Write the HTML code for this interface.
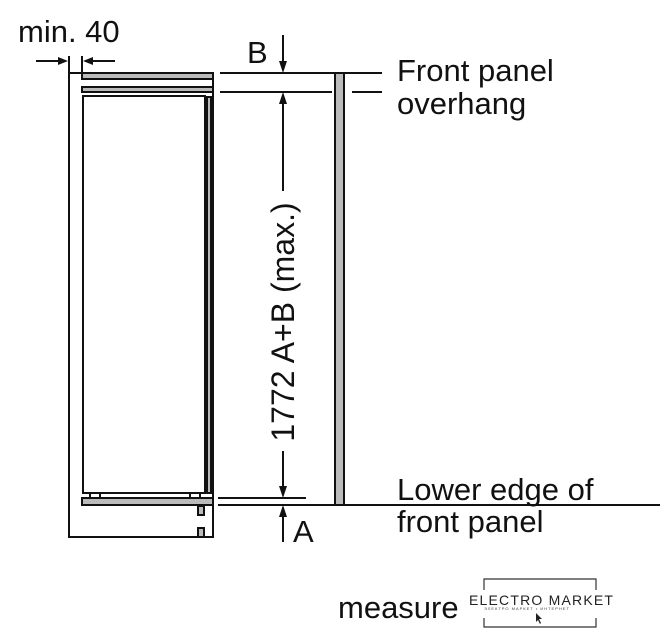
<!DOCTYPE html>
<html><head><style>
html,body{margin:0;padding:0;background:#fff;}
svg{display:block;}
text{font-family:"Liberation Sans",Arial,sans-serif;fill:#111;}
</style></head><body>
<svg width="662" height="640" viewBox="0 0 662 640" xmlns="http://www.w3.org/2000/svg">
<g stroke="#111" stroke-width="2" fill="none">
<rect x="69" y="73" width="144" height="464"/>
<rect x="82" y="73" width="131" height="6" fill="#bbb"/>
<rect x="82" y="87" width="131" height="5" fill="#bbb"/>
<rect x="83" y="96" width="122" height="397"/>
<rect x="207" y="97" width="4" height="396" fill="#bbb"/>
<rect x="90" y="493" width="10" height="5"/>
<rect x="190" y="493" width="10" height="5"/>
<rect x="82" y="498" width="131" height="7" fill="#bbb"/>
<rect x="198" y="506" width="6" height="9" fill="#bbb"/>
<rect x="198" y="528" width="6" height="9" fill="#bbb"/>
<rect x="335" y="73" width="9" height="432" fill="#bbb"/>
<line x1="220" y1="73" x2="382" y2="73"/>
<line x1="220" y1="92" x2="332" y2="92"/>
<line x1="352" y1="92" x2="382" y2="92"/>
<line x1="218" y1="498" x2="306" y2="498"/>
<line x1="218" y1="505" x2="660" y2="505"/>
<line x1="283" y1="100" x2="283" y2="191"/>
<line x1="283" y1="451" x2="283" y2="490"/>
<line x1="283" y1="35" x2="283" y2="64"/>
<line x1="283" y1="514" x2="283" y2="542"/>
<line x1="36" y1="61" x2="62" y2="61"/>
<line x1="69" y1="56" x2="69" y2="72"/>
<line x1="82" y1="56" x2="82" y2="72"/>
<line x1="89" y1="61" x2="115" y2="61"/>
</g>
<g fill="#111">
<polygon points="283,92 279,104 287,104"/>
<polygon points="283,498 279,486 287,486"/>
<polygon points="283,73 279,61 287,61"/>
<polygon points="283,505 279,517 287,517"/>
<polygon points="68,61 58,57 58,65"/>
<polygon points="83,61 93,57 93,65"/>
</g>
<text x="18" y="42" font-size="31">min. 40</text>
<text x="247" y="63" font-size="31">B</text>
<text x="293" y="542" font-size="31">A</text>
<text x="397" y="81" font-size="31">Front panel</text>
<text x="397" y="114" font-size="31">overhang</text>
<text x="397" y="500" font-size="31">Lower edge of</text>
<text x="397" y="532" font-size="31">front panel</text>
<text x="338" y="618" font-size="31">measure</text>
<text transform="translate(294,322) rotate(-90)" text-anchor="middle" font-size="32">1772 A+B (max.)</text>
<rect x="458" y="576" width="160" height="60" fill="#fff"/>
<g stroke="#333" stroke-width="1.2" fill="none">
<polyline points="484,590 484,579 596,579 596,590"/>
<polyline points="484,618 484,627 596,627 596,618"/>
</g>
<text x="469" y="605" font-size="14" letter-spacing="1.2" style="fill:#222">ELECTRO MARKET</text>
<text x="484" y="610" font-size="4" letter-spacing="1" style="fill:#444">ЭЛЕКТРО МАРКЕТ • ИНТЕРНЕТ</text>
<polygon points="536,613 536,622 538,620 540,624 541,623 539,619 542,619" fill="#222"/>
</svg>
</body></html>
